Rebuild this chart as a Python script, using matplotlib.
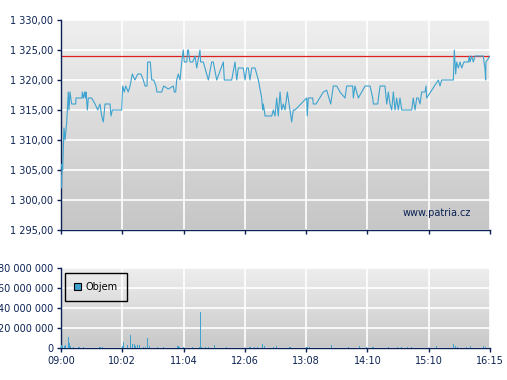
import numpy as np
import matplotlib
matplotlib.use("Agg")
import matplotlib.pyplot as plt
from matplotlib.ticker import FuncFormatter, FixedLocator
from matplotlib.patches import Patch

# ---------------- data ----------------
# time in minutes after 09:00
price_t = [0, 0.5, 1.0, 1.7, 3.0, 4.1, 5.8, 7.4, 8.1, 9.1, 10.8, 14.9, 15.2, 21.3, 21.6, 22.8,
           24.0, 24.8, 25.4, 26.7, 27.7, 31.1, 34.5, 37.2, 39.5, 41.3, 42.9, 44.6, 48.0, 49.7,
           50.7, 52.0, 61.5, 62.6, 64.2, 65.6, 68.2, 70.0, 72.3, 75.0, 77.8, 81.1, 83.5, 85.2,
           87.2, 87.9, 90.5, 92.0, 94.0, 96.3, 97.3, 102.1, 104.1, 108.8, 113.9, 114.9, 116.3,
           117.3, 118.9, 120.7, 122.4, 124.0, 125.0, 127.5, 128.5, 129.1, 130.8, 133.5, 135.9,
           137.6, 139.2, 140.9, 141.6, 144.3, 146.0, 149.4, 152.8, 154.4, 157.9, 161.2, 164.6,
           165.6, 173.1, 176.4, 178.2, 179.8, 184.8, 186.6, 188.3, 189.9, 191.6, 193.4, 196.7,
           198.4, 200.1, 201.8, 203.5, 204.5, 205.1, 206.1, 206.9, 213.7, 215.3, 217.0, 218.7,
           220.3, 222.1, 223.8, 225.4, 227.1, 229.5, 232.2, 233.9, 235.5, 237.3, 249.1, 249.7,
           250.8, 252.5, 255.2, 255.8, 258.6, 266.0, 269.4, 273.5, 276.1, 279.6, 282.9, 288.0,
           289.7, 295.8, 296.4, 298.1, 301.5, 308.3, 313.3, 316.1, 316.7, 321.1, 323.5, 328.5,
           330.3, 331.9, 333.6, 335.3, 337.0, 338.7, 340.4, 342.0, 343.7, 345.5, 355.6, 357.2,
           359.0, 360.7, 362.3, 364.0, 365.7, 369.1, 370.1, 370.8, 382.6, 384.3, 386.0, 397.8,
           398.8, 400.2, 401.2, 402.9, 404.6, 406.3, 408.6, 413.0, 414.0, 414.7, 416.4, 418.1,
           419.8, 428.2, 428.9, 429.9, 430.6, 430.9, 435.0]
price = [1304, 1302, 1306, 1305, 1312, 1310, 1313, 1318, 1315, 1318, 1316, 1316, 1317, 1317, 1318, 1317,
         1318, 1317, 1318, 1315, 1317, 1317, 1316, 1315, 1316, 1314, 1313, 1316, 1316, 1316,
         1314, 1315, 1315, 1319, 1318, 1319, 1318, 1319, 1321, 1320, 1321, 1321, 1320, 1319,
         1319, 1323, 1323, 1320, 1320, 1319, 1318, 1318, 1319, 1318.5, 1319, 1318, 1318,
         1320, 1321, 1320, 1323, 1325, 1323, 1323, 1325, 1325, 1323, 1323, 1324,
         1322, 1323.5, 1325, 1323, 1323, 1322, 1320, 1323, 1323, 1320, 1321.5, 1323,
         1320, 1320, 1323, 1320, 1322, 1322, 1320, 1322, 1322, 1320, 1322, 1322,
         1321, 1320, 1318.5, 1317, 1315, 1316, 1315, 1314, 1314, 1315, 1314, 1317,
         1314, 1318, 1315, 1316, 1315, 1318, 1315, 1313, 1315, 1315, 1317, 1314,
         1317, 1317, 1317, 1316, 1316, 1318, 1318.3, 1316, 1319, 1319, 1318, 1317,
         1319, 1319, 1317, 1319, 1317, 1319, 1319, 1317, 1316, 1316, 1319, 1319,
         1316, 1318, 1316, 1315, 1318, 1315, 1317, 1315, 1317, 1315, 1315, 1317,
         1315, 1317, 1317, 1316, 1318, 1318, 1319, 1317, 1320, 1319, 1320, 1320,
         1325, 1321, 1323, 1322, 1323, 1322, 1323, 1323, 1324, 1323, 1324, 1323,
         1324, 1324, 1323, 1322, 1320, 1323, 1324]
reference_price = 1324

vol_t = [0, 1.0, 3.0, 4.4, 6.8, 7.8, 9.1, 11.9, 16.9, 17.9, 22.0, 38.5, 39.9, 41.9, 61.5, 62.6,
         67.2, 70.3, 72.3, 73.7, 75.0, 76.8, 78.8, 79.4, 83.5, 85.5, 87.5, 89.5, 97.0, 103.1,
         117.3, 118.3, 119.3, 124.0, 132.5, 139.9, 140.6, 142.0, 145.7, 149.4, 155.4, 167.0,
         190.9, 191.9, 196.0, 199.0, 204.1, 205.5, 206.1, 215.3, 218.3, 231.5, 232.5, 248.7,
         249.7, 251.8, 274.1, 290.7, 302.5, 309.0, 315.7, 316.7, 331.9, 341.0, 345.1, 351.2,
         355.2, 380.6, 397.5, 399.5, 401.5, 411.0, 414.7, 428.2, 429.6]
volume_m = [3.3, 1.7, 1.7, 2.7, 11, 5, 1.7, 1.3, 1.3, 1.3, 1.3, 1.3, 1.3, 1.3, 1.7, 6.3,
            3.3, 13.3, 4, 4, 1.7, 3.3, 2.7, 2.7, 1.3, 1.3, 10.3, 1.7, 1.3, 1.3,
            1.7, 2.3, 1.0, 1.3, 1.3, 1.3, 35.7, 1.3, 1.3, 1.3, 3.3, 1.3,
            1.3, 1.3, 1.3, 1.3, 4.3, 2.3, 2.0, 1.3, 2.3, 1.3, 1.3, 1.3,
            1.3, 1.3, 3.3, 1.3, 2.3, 1.3, 1.3, 1.3, 1.3, 1.3, 1.3, 1.3,
            1.3, 2.3, 4.3, 1.7, 1.3, 1.3, 2.3, 2.3, 1.3]

x_tick_labels = ['09:00', '10:02', '11:04', '12:06', '13:08', '14:10', '15:10', '16:15']
session_minutes = 435
price_ticks = [1295, 1300, 1305, 1310, 1315, 1320, 1325, 1330]
volume_ticks = [0, 20e6, 40e6, 60e6, 80e6]
legend_label = 'Objem'
watermark = 'www.patria.cz'

# ---------------- style ----------------
NAVY = '#0b2253'
LINE = '#3ea3cf'
FS = 7

plt.rcParams['font.family'] = ['DejaVu Sans']

fig = plt.figure(figsize=(5.07, 3.80), dpi=100)
W, H = 507, 380
ax1 = fig.add_axes([61 / W, 1 - 230 / H, 429 / W, 210 / H])
ax2 = fig.add_axes([61 / W, 1 - 348 / H, 429 / W, 80 / H])


def gradient(ax, top, bottom):
    g = np.linspace(0, 1, 256).reshape(-1, 1)
    c0 = np.array(matplotlib.colors.to_rgb(top))
    c1 = np.array(matplotlib.colors.to_rgb(bottom))
    img = c0[None, None, :] * (1 - g[:, :, None]) + c1[None, None, :] * g[:, :, None]
    ax.imshow(img, extent=[0, 1, 0, 1], transform=ax.transAxes, aspect='auto',
              zorder=-2, interpolation='bilinear')


xticks = [i * session_minutes / 7 for i in range(8)]


def style(ax):
    ax.set_axisbelow(True)
    ax.grid(True, color='white', linewidth=1.2)
    for s in ('top', 'right'):
        ax.spines[s].set_visible(False)
    for s in ('left', 'bottom'):
        ax.spines[s].set_color(NAVY)
        ax.spines[s].set_linewidth(1.0)
    ax.tick_params(colors=NAVY, labelcolor=NAVY, labelsize=FS, length=3, width=1.0, pad=2.5)
    ax.xaxis.set_major_locator(FixedLocator(xticks))
    ax.set_xlim(0, session_minutes)


# ---- price chart ----
gradient(ax1, '#efefef', '#c6c6c6')
ax1.axhline(reference_price, color='#dd2222', linewidth=0.9, zorder=2)
ax1.plot(price_t, price, color=LINE, linewidth=0.8, zorder=3)
style(ax1)
ax1.set_ylim(1295, 1330)
ax1.yaxis.set_major_locator(FixedLocator(price_ticks))
ax1.yaxis.set_major_formatter(FuncFormatter(
    lambda v, _: f"{v:,.2f}".replace(',', ' ').replace('.', ',')))
ax1.set_xticklabels([])
ax1.text(0.956, 0.08, watermark, transform=ax1.transAxes, ha='right', va='center',
         color=NAVY, fontsize=FS)

# ---- volume chart ----
gradient(ax2, '#eeeeee', '#c8c8c8')
vol = [v * 1e6 for v in volume_m]
ax2.bar(vol_t, vol, width=0.9, align='edge', color=LINE, linewidth=0, zorder=3)
style(ax2)
ax2.set_ylim(0, 80e6)
ax2.yaxis.set_major_locator(FixedLocator(volume_ticks))
ax2.yaxis.set_major_formatter(FuncFormatter(lambda v, _: f"{v:,.0f}".replace(',', ' ')))
ax2.set_xticklabels(x_tick_labels)

leg = ax2.legend(handles=[Patch(facecolor=LINE, edgecolor='black', linewidth=0.8, label=legend_label)],
                 loc='upper left', bbox_to_anchor=(4 / 429, 1 - 5 / 80), borderaxespad=0,
                 fontsize=FS, handlelength=0.75, handleheight=0.75, handletextpad=0.5,
                 borderpad=0.9, fancybox=False, framealpha=1)
leg.get_frame().set_facecolor('none')
leg.get_frame().set_edgecolor('black')
leg.get_frame().set_linewidth(1.0)

fig.savefig('out.png', dpi=100)
